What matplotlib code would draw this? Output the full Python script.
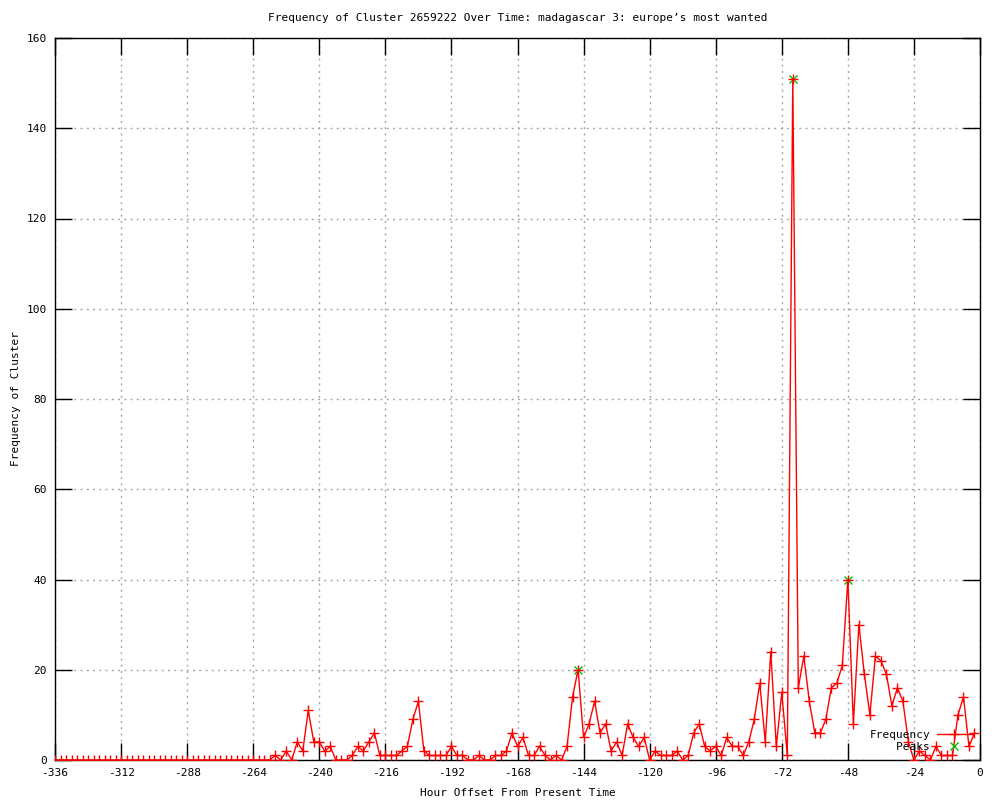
import matplotlib
matplotlib.use("Agg")
import matplotlib.pyplot as plt
import numpy as np

title = "Frequency of Cluster 2659222 Over Time: madagascar 3: europe\u2019s most wanted"
xlabel = "Hour Offset From Present Time"
ylabel = "Frequency of Cluster"

hours = list(range(-336, 0, 2))
freq = [0] * 36 + [
    0, 0, 0, 0, 1, 0, 2, 0, 4, 2, 11, 4, 4, 2, 3, 0, 0, 0, 1, 3,
    2, 4, 6, 1, 1, 1, 1, 2, 3, 9, 13, 2, 1, 1, 1, 1, 3, 1, 1, 0,
    0, 1, 0, 0, 1, 1, 2, 6, 3, 5, 1, 1, 3, 1, 0, 1, 0, 3, 14, 20,
    5, 8, 13, 6, 8, 2, 4, 1, 8, 5, 3, 5, 0, 2, 1, 1, 1, 2, 0, 1,
    6, 8, 3, 2, 3, 1, 5, 3, 3, 1, 4, 9, 17, 4, 24, 3, 15, 1, 151, 16,
    23, 13, 6, 6, 9, 16, 17, 21, 40, 8, 30, 19, 10, 23, 22, 19, 12, 16, 13, 4,
    0, 2, 1, 0, 3, 1, 1, 1, 10, 14, 3, 6,
]
peak_hours = [-146, -68, -48]
peak_values = [20, 151, 40]

xticks = list(range(-336, 1, 24))
yticks = list(range(0, 161, 20))

plt.rcParams['font.family'] = ['DejaVu Sans Mono']
plt.rcParams['axes.unicode_minus'] = False

fig = plt.figure(figsize=(10, 8), dpi=100)
ax = fig.add_axes([0.055, 0.05, 0.925, 0.9025])

ax.plot(peak_hours, peak_values, linestyle='none', marker='x', color='#00c000',
        markersize=5.5, markeredgewidth=1, label='    Peaks', zorder=2)
ax.plot(hours, freq, color='red', linewidth=1, marker='+', markersize=6.5,
        markeredgewidth=1, label='Frequency', zorder=3)

ax.set_xlim(-336, 0)
ax.set_ylim(0, 160)
ax.set_xticks(xticks)
ax.set_yticks(yticks)
ax.tick_params(direction='in', length=12, width=1, top=True, right=True,
               labelsize=8, pad=6)
ax.grid(True, linestyle=(0, (1.5, 3)), color='#a8a8a8', linewidth=1)
for s in ax.spines.values():
    s.set_linewidth(1)

ax.set_title(title, fontsize=8, pad=12)
ax.set_xlabel(xlabel, fontsize=8, labelpad=7)
ax.set_ylabel(ylabel, fontsize=8, labelpad=4)

handles, labels = ax.get_legend_handles_labels()
leg = ax.legend(handles[::-1], labels[::-1], loc='lower right', markerfirst=False,
                frameon=False, fontsize=8, handlelength=3.2, handletextpad=0.6,
                labelspacing=0.2, borderaxespad=0.3)

fig.savefig("out.png", dpi=100)
